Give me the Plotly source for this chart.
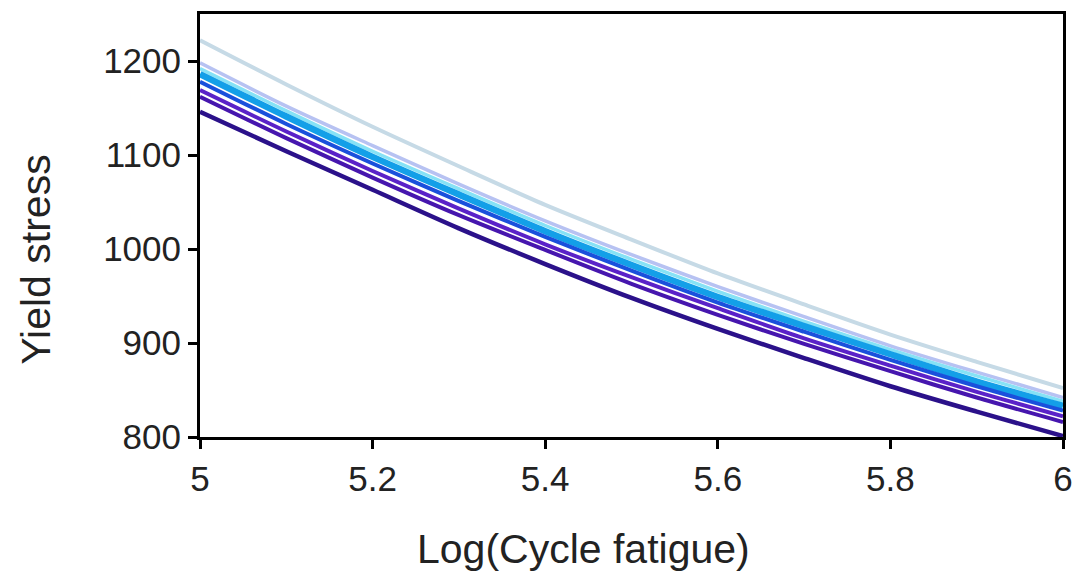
import plotly.graph_objects as go

x_vals = [5.0, 5.1, 5.2, 5.3, 5.4, 5.5, 5.6, 5.7, 5.8, 5.9, 6.0]

pale_grey = [1222, 1175, 1130, 1088, 1047, 1010, 974, 941, 909, 880, 852]
lavender = [1198, 1152, 1110, 1069, 1030, 994, 960, 928, 897, 869, 842]
light_cyan = [1192, 1147, 1104, 1064, 1025, 989, 955, 923, 893, 865, 838]
azure = [1186, 1141, 1098, 1058, 1019, 983, 949, 918, 888, 859, 833]
blue = [1178, 1133, 1091, 1051, 1013, 977, 943, 912, 882, 854, 828]
purple = [1169, 1125, 1083, 1043, 1005, 970, 937, 905, 876, 848, 822]
violet = [1162, 1118, 1076, 1036, 999, 963, 930, 899, 870, 842, 816]
navy = [1146, 1104, 1063, 1022, 984, 948, 915, 884, 854, 827, 801]

series = [
    ("s1", pale_grey, "#c6dae6", 4),
    ("s2", lavender, "#b7c2f2", 3.5),
    ("s3", light_cyan, "#86e2f6", 3.5),
    ("s4", azure, "#139fe8", 6.5),
    ("s5", blue, "#1a50dc", 4),
    ("s6", purple, "#5a22c8", 4),
    ("s7", violet, "#4616ae", 4),
    ("s8", navy, "#2b118a", 4.5),
]

y_ticks = [800, 900, 1000, 1100, 1200]
x_ticks = [5, 5.2, 5.4, 5.6, 5.8, 6]
x_tick_text = ["5", "5.2", "5.4", "5.6", "5.8", "6"]

x_title = "Log(Cycle fatigue)"
y_title = "Yield stress"

fig = go.Figure()
for name, ys, color, w in series:
    fig.add_trace(go.Scatter(
        x=x_vals, y=ys, mode="lines", name=name,
        line=dict(color=color, width=w, shape="spline", smoothing=0.8),
        showlegend=False, hoverinfo="skip",
    ))

fam = "Liberation Sans, Arial, sans-serif"
tick_font = dict(family=fam, size=35, color="#222222")
title_font = dict(family=fam, size=41, color="#222222")

W, H = 1084, 578
ML, MR, MT, MB = 200, 11, 12, 141
pw, ph = W - ML - MR, H - MT - MB

fig.update_layout(
    width=W, height=H,
    margin=dict(l=ML, r=MR, t=MT, b=MB),
    paper_bgcolor="white", plot_bgcolor="white",
    font=tick_font,
    xaxis=dict(
        range=[5, 6], tickvals=x_ticks, ticktext=x_tick_text,
        showgrid=False, zeroline=False,
        showline=True, linecolor="black", linewidth=3, mirror=True,
        ticks="outside", ticklen=9, tickwidth=3, tickcolor="black",
        tickfont=tick_font,
    ),
    yaxis=dict(
        range=[800, 1250], tickvals=y_ticks,
        showgrid=False, zeroline=False,
        showline=True, linecolor="black", linewidth=3, mirror=True,
        ticks="outside", ticklen=9, tickwidth=3, tickcolor="black",
        tickfont=tick_font,
    ),
    annotations=[
        dict(text=x_title, xref="paper", yref="paper",
             x=(588 - ML) / pw, y=-(550 - (MT + ph)) / ph,
             xanchor="center", yanchor="middle", showarrow=False,
             font=title_font),
        dict(text=y_title, xref="paper", yref="paper",
             x=-(ML - 34) / pw, y=(MT + ph - 259) / ph,
             xanchor="center", yanchor="middle", showarrow=False,
             textangle=-90, font=title_font),
    ],
)

fig.write_html("out.html")
